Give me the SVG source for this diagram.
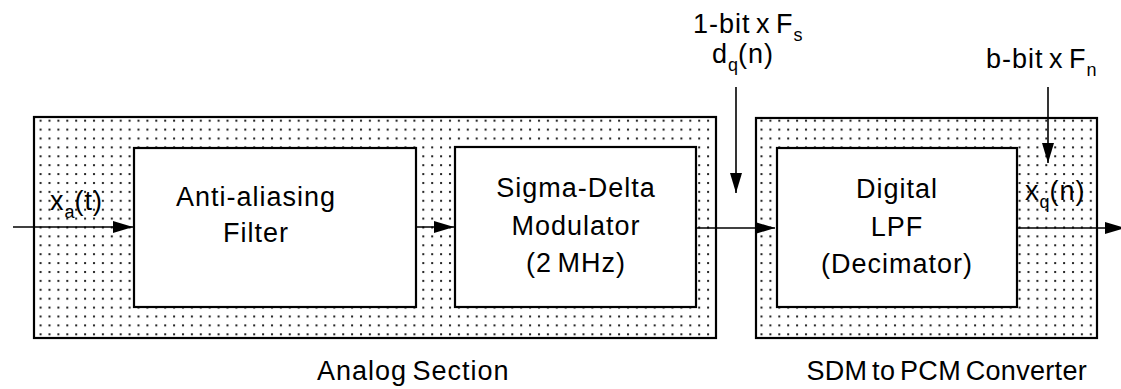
<svg xmlns="http://www.w3.org/2000/svg" width="1121" height="389" viewBox="0 0 1121 389">
<style>
.sec{fill:url(#dots);stroke:#000;stroke-width:2.2}
.box{fill:#fff;stroke:#000;stroke-width:2.2}
.t{font-family:"Liberation Sans",Arial,sans-serif;font-size:27px;fill:#000;letter-spacing:1px;word-spacing:-3px}
.m{text-anchor:middle}
.e{text-anchor:end}
.sub{font-size:18px;letter-spacing:0}
.c{fill:none;stroke:#000;stroke-width:1.6}
</style>
<defs>
<pattern id="dots" patternUnits="userSpaceOnUse" x="1" y="1" width="8.9" height="8.9">
<rect width="8.9" height="8.9" fill="#fff"/>
<rect x="3" y="3" width="2" height="2" fill="#222"/>
</pattern>
<marker id="ah" markerUnits="userSpaceOnUse" markerWidth="22" markerHeight="16" refX="20" refY="8" orient="auto">
<path d="M0,2 L20,8 L0,14 Z" fill="#000"/>
</marker>
</defs>
<g id="analog-section">
<rect class="sec" x="34" y="117" width="682" height="221"/>
<text class="t" x="317" y="380">Analog Section</text>
</g>
<g id="sdm-section">
<rect class="sec" x="756" y="118" width="341" height="220"/>
<text class="t e" x="1087" y="380" style="letter-spacing:0.3px">SDM to PCM Converter</text>
</g>
<g id="anti-aliasing">
<rect class="box" x="134" y="148" width="282" height="159"/>
<text class="t m" x="256" y="206">Anti-aliasing</text>
<text class="t m" x="256" y="242">Filter</text>
</g>
<g id="sigma-delta">
<rect class="box" x="455" y="147" width="241" height="160"/>
<text class="t m" x="576" y="197">Sigma-Delta</text>
<text class="t m" x="576" y="235">Modulator</text>
<text class="t m" x="576" y="272">(2 MHz)</text>
</g>
<g id="digital-lpf">
<rect class="box" x="777" y="148" width="240" height="159"/>
<text class="t m" x="897" y="198">Digital</text>
<text class="t m" x="897" y="236">LPF</text>
<text class="t m" x="897" y="273">(Decimator)</text>
</g>
<g id="connectors">
<line class="c" x1="13" y1="227" x2="133" y2="227" marker-end="url(#ah)"/>
<line class="c" x1="416" y1="227" x2="454" y2="227" marker-end="url(#ah)"/>
<line class="c" x1="696" y1="228" x2="775" y2="228" marker-end="url(#ah)"/>
<line class="c" x1="1017" y1="228" x2="1125" y2="228" marker-end="url(#ah)"/>
<line class="c" x1="736" y1="87" x2="736" y2="193" marker-end="url(#ah)"/>
<line class="c" x1="1048" y1="87" x2="1048" y2="163" marker-end="url(#ah)"/>
</g>
<g id="labels">
<text class="t" x="50" y="210">x<tspan class="sub" dy="8">a</tspan><tspan dy="-8">(t)</tspan></text>
<text class="t" x="693" y="33">1-bit x F<tspan class="sub" dy="8">s</tspan></text>
<text class="t" x="712" y="63">d<tspan class="sub" dy="8">q</tspan><tspan dy="-8">(n)</tspan></text>
<text class="t" x="986" y="68">b-bit x F<tspan class="sub" dy="8">n</tspan></text>
<text class="t" x="1025" y="200">x<tspan class="sub" dy="8">q</tspan><tspan dy="-8">(n)</tspan></text>
</g>
</svg>
